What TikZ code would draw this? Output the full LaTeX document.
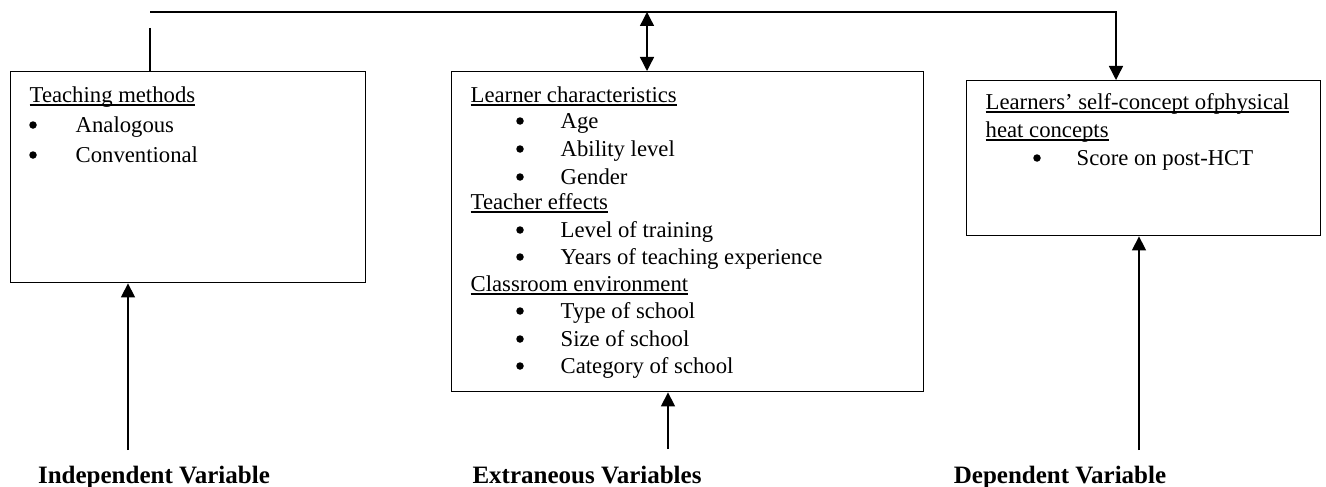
\documentclass[tikz,border=0pt]{standalone}
\usepackage{fontspec}
\setmainfont{Liberation Serif}
\usetikzlibrary{arrows.meta}
% underline set just below the baseline, crossing descenders
\newcommand\ulbox[1]{\setbox0\hbox{#1}\rlap{\rule[-0.13em]{\wd0}{0.055em}}\box0}
\begin{document}
\begin{tikzpicture}[x=1pt,y=-1pt,
  line width=1.4pt,
  frame/.style={draw, line width=1.4pt, inner sep=0pt, anchor=north west},
  txt/.style={anchor=west, inner sep=0pt, font=\fontsize{22.7}{27}\selectfont,
              text height=16pt, text depth=4.5pt},
  dot/.style={circle, fill, draw=none, inner sep=0pt, minimum size=7.5pt},
  varlabel/.style={anchor=center, inner sep=0pt, font=\fontsize{25}{30}\selectfont\bfseries,
              text height=17.5pt, text depth=5pt},
  arr/.style={-{Triangle[width=14pt,length=14pt]}},
  arrboth/.style={{Triangle[width=14pt,length=14pt]}-{Triangle[width=14pt,length=14pt]}}
]
\useasboundingbox (0,0) rectangle (1326,487);

% boxes
\node[frame, minimum width=355pt, minimum height=211pt] (ind) at (10,71) {};
\node[frame, minimum width=472pt, minimum height=320pt] (ext) at (451,71) {};
\node[frame, minimum width=354pt, minimum height=155pt] (dep) at (966,80) {};

% independent variable box
\node[txt] (t1) at (29,97) {\ulbox{Teaching methods}};
\node[dot] (b11) at (33,125) {};
\node[txt] (i11) at (75,127) {Analogous};
\node[dot] (b12) at (33,155) {};
\node[txt] (i12) at (75,157) {Conventional};

% extraneous variables box
\node[txt] (h21) at (470,97) {\ulbox{Learner characteristics}};
\node[dot] (b21) at (520,121) {};
\node[txt] (i21) at (560,123) {Age};
\node[dot] (b22) at (520,149) {};
\node[txt] (i22) at (560,151) {Ability level};
\node[dot] (b23) at (520,177) {};
\node[txt] (i23) at (560,179) {Gender};
\node[txt] (h22) at (470,204) {\ulbox{Teacher effects}};
\node[dot] (b24) at (520,230) {};
\node[txt] (i24) at (560,232) {Level of training};
\node[dot] (b25) at (520,257) {};
\node[txt] (i25) at (560,259) {Years of teaching experience};
\node[txt] (h23) at (470,286) {\ulbox{Classroom environment}};
\node[dot] (b26) at (520,311) {};
\node[txt] (i26) at (560,313) {Type of school};
\node[dot] (b27) at (520,339) {};
\node[txt] (i27) at (560,341) {Size of school};
\node[dot] (b28) at (520,366) {};
\node[txt] (i28) at (560,368) {Category of school};

% dependent variable box
\node[txt] (h31) at (985,104) {\ulbox{Learners’ self-concept ofphysical}};
\node[txt] (h32) at (985,132) {\ulbox{heat concepts}};
\node[dot] (b31) at (1037,158) {};
\node[txt] (i31) at (1076,160) {Score on post-HCT};

% variable labels
\node[varlabel] (lind) at (154,477) {Independent Variable};
\node[varlabel] (lext) at (587,477) {Extraneous Variables};
\node[varlabel] (ldep) at (1060,477) {Dependent Variable};

% arrows from the labels up to the boxes
\coordinate (f1) at (128,450);
\coordinate (f2) at (668,449);
\coordinate (f3) at (1139,450);
\draw[arr] (f1) -- (f1 |- ind.south);
\draw[arr] (f2) -- (f2 |- ext.south);
\draw[arr] (f3) -- (f3 |- dep.south);

% connector across the top
\coordinate (tl) at (150,12);
\coordinate (tr) at (1116,12);
\coordinate (stub) at (150,28);
\coordinate (mt) at (647,12);
\draw (stub) -- (stub |- ind.north);
\draw[arr] (tl) -- (tr) -- (tr |- dep.north);
\draw[arrboth] (mt) -- (mt |- ext.north);
\end{tikzpicture}
\end{document}
